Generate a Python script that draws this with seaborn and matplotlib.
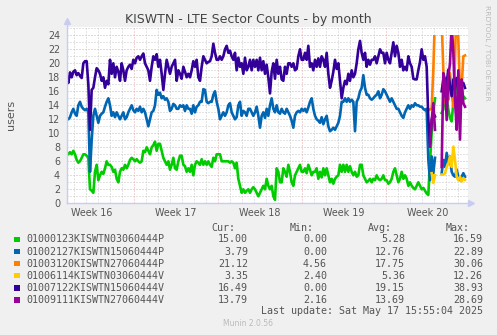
import numpy as np
import pandas as pd
import matplotlib
matplotlib.use("Agg")
import matplotlib.pyplot as plt
from matplotlib.patches import Rectangle
import seaborn as sns

nan = np.nan

# ---------------- data ----------------
series_names = [
    "01000123KISWTN03060444P",
    "01002127KISWTN15060444P",
    "01003120KISWTN27060444P",
    "01006114KISWTN03060444V",
    "01007122KISWTN15060444V",
    "01009111KISWTN27060444V",
]
series_colors = ["#00CC00", "#0066B3", "#FF8000", "#FFCC00", "#330099", "#990099"]

cur_vals = ["15.00", "3.79", "21.12", "3.35", "16.49", "13.79"]
min_vals = ["0.00", "0.00", "4.56", "2.40", "0.00", "2.16"]
avg_vals = ["5.28", "12.76", "17.75", "5.36", "19.15", "13.69"]
max_vals = ["16.59", "22.89", "30.06", "12.26", "38.93", "28.69"]

week_labels = ["Week 16", "Week 17", "Week 18", "Week 19", "Week 20"]
week_label_days = [3.5, 10.5, 17.5, 24.5, 31.5]
week_starts = [7, 14, 21, 28]
y_ticks = [0, 2, 4, 6, 8, 10, 12, 14, 16, 18, 20, 22, 24]

# time grid: days since start of week 16, one sample every 1/7.2 day
t_start = 1.389
t_step = 1.0 / 7.2

green = [
    7.3, 7.0, 7.3, 7.0, 7.5, 7.0, 6.2, 5.8, 6.0, 6.5, 7.0, 7.0, 6.8, 6.5, 2.0, 1.8, 1.5, 4.5, 5.5, 3.3,
    4.0, 4.5, 4.2, 5.0, 6.0, 5.5, 5.5, 5.2, 4.5, 4.8, 3.5, 3.0, 4.5, 5.0, 4.8, 5.5, 5.0, 5.5, 6.2, 6.5,
    6.3, 6.0, 6.3, 6.0, 5.8, 6.0, 7.5, 7.3, 8.0, 7.5, 7.0, 8.0, 8.3, 8.8, 7.5, 8.5, 8.5, 7.5, 6.5, 6.0,
    5.5, 6.0, 4.8, 5.5, 6.5, 5.0, 4.8, 6.0, 6.8, 6.8, 5.5, 5.3, 4.5, 5.0, 4.5, 5.5, 4.0, 5.5, 6.0, 5.8,
    5.5, 6.3, 5.5, 6.0, 5.5, 6.0, 5.5, 5.2, 6.5, 6.0, 7.0, 7.0, 7.0, 6.0, 6.0, 6.0, 6.0, 6.0, 5.8, 6.0,
    5.8, 5.0, 5.8, 3.5, 2.5, 1.5, 2.0, 1.5, 1.8, 2.0, 1.5, 2.0, 2.3, 2.0, 1.5, 1.0, 1.5, 2.0, 2.5, 2.0,
    3.5, 2.5, 2.0, 2.5, 1.0, 0.5, 5.0, 4.5, 3.0, 3.0, 5.0, 4.5, 3.8, 5.5, 4.5, 3.0, 2.5, 4.0, 4.5, 5.0,
    5.5, 4.5, 4.5, 5.0, 4.3, 5.5, 4.8, 4.0, 4.5, 4.5, 5.0, 3.5, 4.5, 3.7, 5.0, 4.0, 5.0, 4.0, 3.0, 3.5,
    2.8, 3.5, 3.8, 4.0, 5.5, 4.5, 5.5, 4.5, 5.5, 4.5, 5.3, 4.5, 4.0, 4.5, 3.8, 4.0, 5.5, 5.5, 4.0, 3.5,
    3.0, 3.2, 3.5, 3.0, 3.5, 3.3, 4.0, 3.5, 3.3, 3.5, 4.0, 3.3, 3.3, 2.8, 3.0, 3.5, 4.5, 5.0, 4.0, 3.0,
    3.5, 4.5, 3.5, 4.0, 3.5, 2.5, 3.0, 2.5, 2.2, 2.0, 2.5, 3.0, 2.5, 2.0, 2.2, 1.8, 1.4, 1.2, 6.0, 10.0,
    13.0, 15.0, nan, nan, nan, 12.9, 13.4, 16.7, 14.8, 13.4, 12.2, 11.7, 14.3, 15.3, 16.7, 16.5, 15.7, 15.0, 15.3, 15.0,
]

blue = [
    12.2, 12.0, 12.3, 13.0, 13.5, 12.8, 12.5, 14.0, 14.5, 13.8, 13.5, 13.3, 13.5, 13.0, 4.5, 9.0, 12.5, 13.5, 12.5, 11.5,
    12.5, 12.8, 13.0, 13.8, 14.5, 15.0, 14.0, 12.5, 13.0, 12.3, 13.0, 12.5, 12.0, 12.5, 13.0, 12.0, 12.3, 13.0, 13.5, 14.0,
    13.3, 13.0, 13.5, 13.2, 13.8, 13.0, 13.5, 13.0, 12.0, 11.0, 12.0, 13.0, 13.2, 14.0, 16.2, 15.5, 15.8, 15.0, 15.3, 14.8,
    15.0, 14.5, 13.2, 13.5, 14.2, 14.0, 13.5, 13.5, 14.0, 13.8, 14.0, 13.2, 14.0, 13.5, 13.5, 12.8, 14.0, 13.0, 13.8, 14.0,
    14.5, 14.5, 16.3, 16.2, 14.5, 14.3, 14.5, 14.5, 15.5, 16.0, 14.5, 13.5, 12.0, 12.5, 13.0, 12.5, 13.0, 14.0, 14.3, 13.0,
    12.5, 12.0, 12.3, 14.0, 14.5, 12.5, 13.2, 13.0, 12.5, 13.5, 13.5, 13.0, 12.5, 13.0, 13.8, 12.5, 10.8, 12.5, 13.0, 12.2,
    13.5, 12.5, 14.0, 15.0, 13.5, 13.0, 14.0, 13.0, 12.8, 13.5, 13.0, 12.8, 13.5, 13.0, 12.5, 11.8, 10.8, 12.5, 13.0, 13.2,
    13.0, 13.5, 13.2, 13.5, 13.0, 13.7, 14.5, 15.0, 13.5, 12.5, 12.0, 11.8, 11.5, 12.3, 11.3, 12.0, 12.5, 11.0, 10.3, 10.5,
    10.8, 10.5, 11.0, 11.5, 12.5, 14.5, 14.5, 15.0, 14.5, 15.0, 14.5, 14.8, 14.5, 10.3, 14.5, 15.0, 16.0, 16.5, 18.3, 16.5,
    15.5, 15.5, 15.0, 14.8, 15.0, 15.3, 15.5, 16.0, 15.0, 15.5, 16.3, 16.0, 15.5, 15.0, 14.5, 15.0, 14.5, 14.0, 13.5, 13.5,
    13.0, 12.5, 12.2, 13.0, 13.5, 14.0, 13.5, 14.0, 13.8, 14.3, 14.0, 14.0, 13.8, 13.8, 13.5, 13.3, 13.5, 6.2, 3.3, 6.7,
    4.3, 6.5, nan, nan, nan, 4.3, 6.2, 5.2, 7.2, 5.7, 6.7, 4.5, 4.0, 3.8, 4.8, 3.8, 3.3, 3.8, 4.3, 3.79,
]

dark_purple = [
    18.0, 17.2, 18.7, 18.0, 18.8, 19.0, 18.3, 18.6, 18.2, 17.9, 20.0, 20.3, 20.3, 17.0, 10.5, 16.2, 16.5, 18.0, 19.3, 19.0,
    18.5, 17.5, 18.0, 16.5, 17.5, 17.0, 20.5, 18.5, 20.0, 18.0, 19.5, 18.8, 17.5, 20.0, 19.0, 17.5, 19.0, 19.5, 19.8, 19.2,
    20.5, 20.0, 20.8, 21.0, 20.5, 21.0, 21.4, 20.0, 19.5, 19.0, 17.5, 19.5, 21.0, 20.5, 21.3, 19.5, 20.5, 18.5, 16.2, 18.5,
    20.5, 19.5, 18.5, 19.5, 20.0, 20.5, 17.5, 19.0, 18.5, 17.8, 19.5, 18.8, 18.0, 18.5, 18.0, 19.0, 20.3, 19.5, 20.5, 18.0,
    17.5, 19.5, 21.0, 20.5, 20.0, 20.2, 20.3, 21.0, 22.8, 21.5, 20.5, 20.5, 21.0, 20.5, 21.0, 22.0, 22.5, 21.5, 21.8, 21.0,
    20.5, 21.5, 19.0, 20.8, 19.5, 20.0, 18.5, 20.8, 19.0, 19.5, 20.5, 19.0, 20.5, 19.5, 20.5, 19.0, 20.8, 19.0, 20.3, 18.5,
    19.8, 18.0, 15.7, 18.8, 20.0, 17.8, 20.5, 18.5, 19.5, 17.7, 17.5, 19.5, 18.5, 20.0, 20.0, 19.5, 20.0, 19.0, 19.2, 21.0,
    22.0, 20.5, 20.5, 21.5, 20.5, 22.5, 19.5, 20.0, 19.0, 20.5, 19.5, 20.7, 19.5, 21.0, 20.5, 19.5, 21.5, 18.5, 16.5, 17.5,
    18.8, 20.5, 19.2, 20.0, 17.5, 15.0, 16.5, 17.5, 17.0, 18.5, 17.5, 19.0, 18.0, 18.5, 20.0, 22.0, 23.2, 21.5, 20.5, 21.5,
    19.5, 20.5, 19.8, 20.5, 20.5, 21.0, 20.0, 21.0, 22.0, 21.5, 21.5, 20.0, 21.5, 20.5, 20.0, 21.5, 23.0, 21.0, 22.5, 21.5,
    19.5, 20.5, 19.0, 19.5, 19.0, 21.0, 20.0, 19.5, 17.8, 17.7, 17.7, 19.0, 20.2, 22.0, 20.5, 21.0, 19.5, 12.0, 8.5, 11.9,
    12.9, 12.4, nan, nan, nan, 16.0, 17.7, 15.3, 17.2, 19.1, 16.7, 15.3, 17.7, 16.2, 17.9, 17.2, 15.7, 16.7, 17.2, 16.49,
]

# late-starting series (first sample index on the same time grid)
late_start = 218
orange = [13.4, 13.6, 19.1, 27.0, nan, nan, nan, 26.0, 19.0, 14.3, 16.7, 14.8, 18.6, 15.7, 13.8, 20.5, 30.0, 23.4,
          15.7, 16.7, 21.0, 21.12]
yellow = [nan, 4.3, 2.9, 4.0, nan, nan, nan, 4.1, 4.1, 4.3, 5.2, 5.7, 6.7, 5.2, 8.1, 6.2, 3.8, 3.3, 3.8, 3.1, 3.6, 3.35]
purple = [8.1, 11.9, 14.3, 10.5, nan, nan, nan, 5.2, 18.6, 17.7, 11.9, 18.1, 20.0, 25.5, 21.5, 14.8, 10.5, 19.0,
          9.1, 17.7, 14.3, 13.79]

# ---------------- frame ----------------
rows = []
def add_series(name, values, first_idx):
    seg = 0
    for k, v in enumerate(values):
        idx = first_idx + k
        if v is None or (isinstance(v, float) and np.isnan(v)):
            seg += 1
            continue
        rows.append({"t": t_start + idx * t_step, "v": v, "series": name, "unit": f"{name}_{seg}"})

all_values = [green, blue, orange, yellow, dark_purple, purple]
first_idx = [0, 0, late_start, late_start, 0, late_start]
for name, vals, fi in zip(series_names, all_values, first_idx):
    add_series(name, vals, fi)
df = pd.DataFrame(rows)

# ---------------- layout ----------------
W, H = 497, 335
fig = plt.figure(figsize=(W / 100, H / 100), dpi=100, facecolor="#F0F0F0")

def fx(px):
    return px / W

def fy(py):
    return 1 - py / H

left_px, right_px, top_px, bottom_px = 66.7, 467.7, 27.0, 203.3
ax = fig.add_axes([fx(left_px), fy(bottom_px), (right_px - left_px) / W, (bottom_px - top_px) / H])
ax.set_facecolor("white")

xmin, xmax = (left_px - 50) / 12.0, (right_px - 50) / 12.0
ymax = (bottom_px - top_px) / 7.0
ax.set_xlim(xmin, xmax)
ax.set_ylim(0, ymax)

grid_gray = "#C8C8C8"
grid_red = "#E8AAAA"
dot = (0, (1, 2))
for d in range(2, 35):
    if d in week_starts:
        continue
    ax.axvline(d, color=grid_gray, lw=0.72, ls=dot, zorder=0.5)
for d in week_starts:
    ax.axvline(d, color=grid_red, lw=0.72, ls=dot, zorder=0.6)
for y in range(1, 26):
    if y % 2 == 1:
        ax.axhline(y, color=grid_gray, lw=0.72, ls=dot, zorder=0.5)
for y in y_ticks[1:]:
    ax.axhline(y, color=grid_red, lw=0.72, ls=dot, zorder=0.6)

n_before = len(ax.lines)
sns.lineplot(data=df, x="t", y="v", hue="series", units="unit", estimator=None,
             hue_order=series_names, palette=dict(zip(series_names, series_colors)),
             sort=False, legend=False, lw=1.9, ax=ax, zorder=3)
clip_rect = Rectangle((xmin, 0), xmax - xmin, 24.05, transform=ax.transData, facecolor="none", edgecolor="none")
ax.add_patch(clip_rect)
for ln in ax.lines[n_before:]:
    ln.set_clip_path(clip_rect)

for s in ax.spines.values():
    s.set_visible(False)
ax.set_xlabel("")
ax.set_ylabel("")
ax.set_yticks(y_ticks)
ax.set_yticklabels([str(v) for v in y_ticks])
ax.set_xticks(week_label_days)
ax.set_xticklabels(week_labels)
ax.tick_params(length=0, labelsize=6.9, colors="#555555")
ax.tick_params(axis="y", pad=4.8)
ax.tick_params(axis="x", pad=3.5)

axis_col = "#C8CCF0"
ax.plot([xmin, xmin], [0, 26.0], color=axis_col, lw=1.0, clip_on=False, zorder=4)
ax.plot([xmin, 35.1], [0, 0], color=axis_col, lw=1.0, clip_on=False, zorder=4)
ax.plot([xmin], [26.0], marker="^", ms=4.5, color=axis_col, clip_on=False, zorder=5)
ax.plot([35.1], [0], marker=">", ms=4.5, color=axis_col, clip_on=False, zorder=5)

# ---------------- texts ----------------
fig.text(fx(248), fy(19), "KISWTN - LTE Sector Counts - by month", ha="center", va="center",
         fontsize=9, color="#444444")
fig.text(fx(11), fy(115), "users", rotation=90, ha="center", va="center", fontsize=8, color="#555555")
fig.text(fx(487), fy(5), "RRDTOOL / TOBI OETIKER", rotation=270, ha="center", va="top",
         fontsize=5.4, color="#BBBBBB")

mono = "DejaVu Sans Mono"
tc = "#555555"
fs = 7.2
for lab, xr in zip(["Cur:", "Min:", "Avg:", "Max:"], [235, 314, 392, 470]):
    fig.text(fx(xr), fy(228), lab, ha="right", va="center", fontsize=fs, family=mono, color=tc)
for k in range(len(series_names)):
    yy = 239.5 + 12.05 * k
    fig.patches.append(Rectangle((fx(14), fy(yy + 2.8)), 5.5 / W, 5.5 / H, transform=fig.transFigure,
                                 facecolor=series_colors[k], edgecolor="none"))
    fig.text(fx(26), fy(yy), series_names[k], ha="left", va="center", fontsize=fs, family=mono, color=tc)
    for val, xr in zip([cur_vals[k], min_vals[k], avg_vals[k], max_vals[k]], [248, 327, 405, 483]):
        fig.text(fx(xr), fy(yy), val, ha="right", va="center", fontsize=fs, family=mono, color=tc)
fig.text(fx(483), fy(311.5), "Last update: Sat May 17 15:55:04 2025", ha="right", va="center",
         fontsize=fs, family=mono, color=tc)
fig.text(fx(248), fy(324), "Munin 2.0.56", ha="center", va="center", fontsize=5.5, color="#BBBBBB")

fig.savefig("out.png", dpi=100, facecolor=fig.get_facecolor())
